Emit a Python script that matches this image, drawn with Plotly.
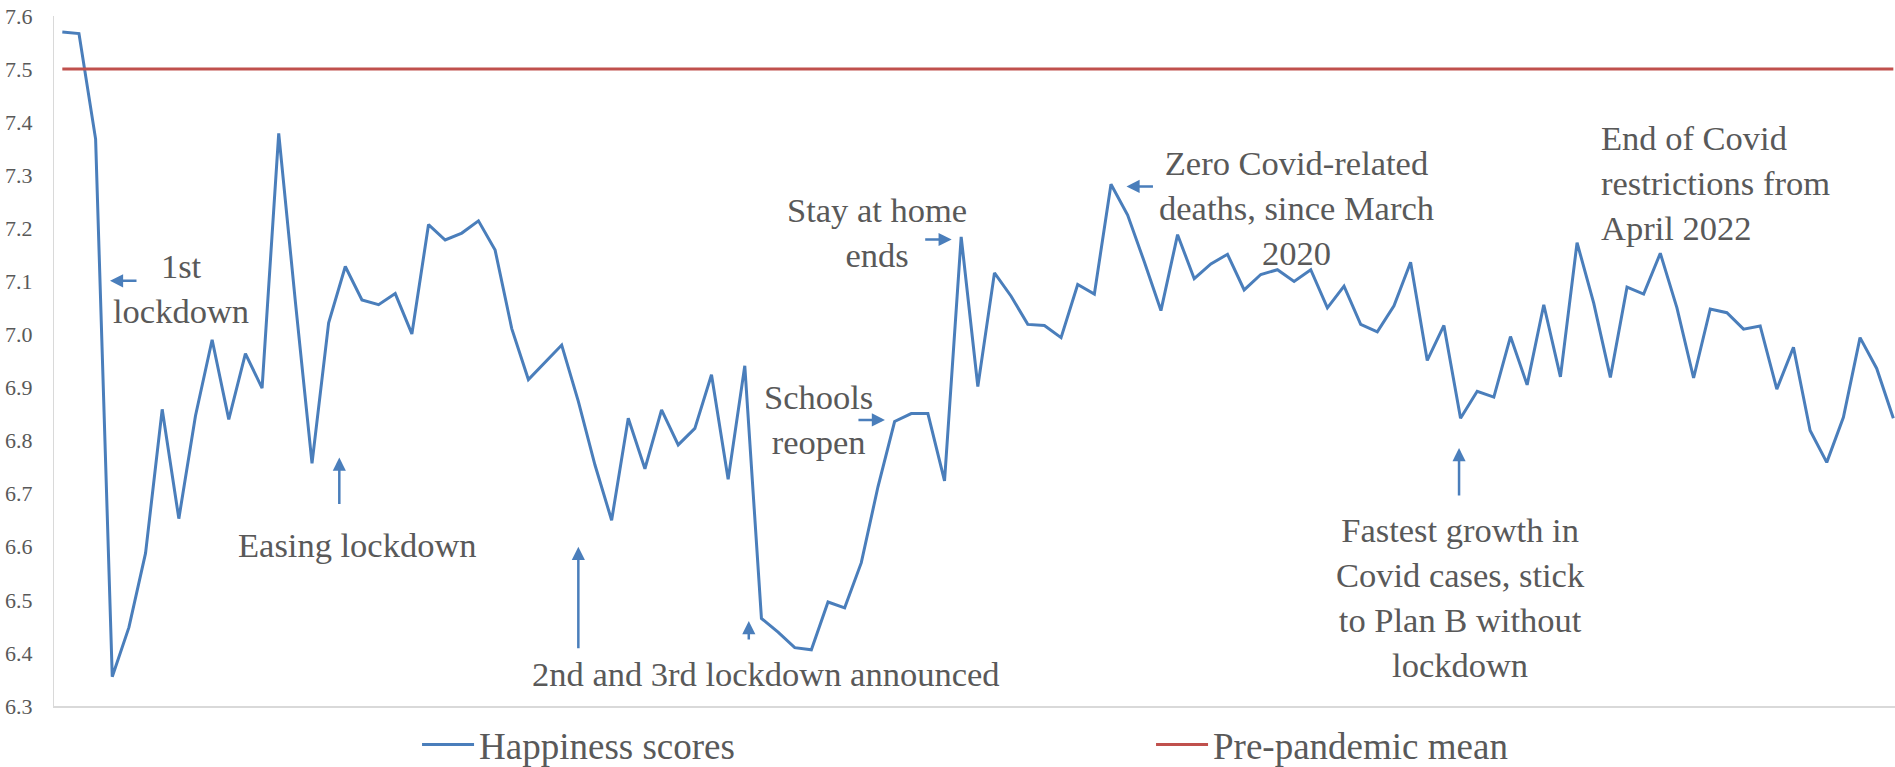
import plotly.graph_objects as go

# Weekly average happiness scores, March 2020 onwards
happiness = [
    7.570, 7.567, 7.368, 6.355, 6.448, 6.588, 6.859, 6.653, 6.847, 6.990,
    6.840, 6.964, 6.899, 7.379, 7.062, 6.757, 7.022, 7.128, 7.065, 7.056,
    7.077, 7.001, 7.207, 7.178, 7.191, 7.214, 7.159, 7.011, 6.915, 6.947,
    6.980, 6.874, 6.754, 6.650, 6.842, 6.747, 6.858, 6.792, 6.823, 6.924,
    6.727, 6.941, 6.465, 6.439, 6.410, 6.406, 6.496, 6.485, 6.570, 6.713,
    6.836, 6.851, 6.851, 6.724, 7.184, 6.902, 7.116, 7.072, 7.019, 7.017,
    6.994, 7.094, 7.076, 7.283, 7.225, 7.137, 7.045, 7.188, 7.105, 7.133,
    7.151, 7.084, 7.113, 7.122, 7.100, 7.122, 7.050, 7.091, 7.019, 7.005,
    7.054, 7.136, 6.951, 7.017, 6.842, 6.893, 6.882, 6.996, 6.905, 7.056,
    6.920, 7.173, 7.059, 6.919, 7.089, 7.076, 7.153, 7.050, 6.918, 7.048,
    7.041, 7.010, 7.016, 6.897, 6.976, 6.819, 6.759, 6.844, 6.994, 6.936,
    6.842,
]
weeks = list(range(len(happiness)))
PRE_PANDEMIC_MEAN = 7.5
pre_pandemic = [PRE_PANDEMIC_MEAN] * len(weeks)

y_ticks = [6.3, 6.4, 6.5, 6.6, 6.7, 6.8, 6.9, 7.0, 7.1, 7.2, 7.3, 7.4, 7.5, 7.6]
y_tick_labels = [f"{v:.1f}" for v in y_ticks]

BLUE = "#4A7EBB"
RED = "#C0504D"
TEXT = "#595959"
AXIS = "#D9D9D9"
FONT = "Liberation Serif"

# Event labels: (text, week position, score level, horizontal anchor, alignment)
events = [
    ("1st<br>lockdown", 7.13, 7.086, "center", "center"),
    ("Easing lockdown", 17.75, 6.603, "center", "center"),
    ("2nd and 3rd lockdown announced", 42.28, 6.361, "center", "center"),
    ("Schools<br>reopen", 45.4, 6.839, "center", "center"),
    ("Stay at home<br>ends", 48.94, 7.192, "center", "center"),
    ("Zero Covid-related<br>deaths, since March<br>2020", 74.12, 7.238, "center", "center"),
    ("End of Covid<br>restrictions from<br>April 2022", 92.32, 7.286, "left", "left"),
    ("Fastest growth in<br>Covid cases, stick<br>to Plan B without<br>lockdown", 83.97, 6.504, "center", "center"),
]

# Arrows: (tip week, tip score, tail offset x px, tail offset y px)
arrows = [
    (2.864, 7.101, 28, 0),
    (16.64, 6.768, 0, 48),
    (31.0, 6.600, 0, 103),
    (41.24, 6.460, 0, 20),
    (49.42, 6.839, -28, 0),
    (53.43, 7.179, -28, 0),
    (63.93, 7.279, 28, 0),
    (83.91, 6.786, 0, 49),
]

fig = go.Figure()
fig.add_trace(go.Scatter(
    x=weeks, y=happiness, mode="lines", name="Happiness scores",
    line=dict(color=BLUE, width=3),
))
fig.add_trace(go.Scatter(
    x=weeks, y=pre_pandemic, mode="lines", name="Pre-pandemic mean",
    line=dict(color=RED, width=3),
))

annotations = []
for text, xv, yv, xanchor, align in events:
    annotations.append(dict(
        x=xv, y=yv, xref="x", yref="y", text=text, showarrow=False,
        xanchor=xanchor, yanchor="middle", align=align,
        font=dict(family=FONT, size=34.5, color=TEXT),
    ))
for xv, yv, ax, ay in arrows:
    annotations.append(dict(
        x=xv, y=yv, xref="x", yref="y", text="", showarrow=True,
        ax=ax, ay=ay, arrowhead=2, arrowsize=1.05, arrowwidth=2.5,
        arrowcolor=BLUE, standoff=0, startstandoff=0,
    ))

fig.update_layout(
    width=1895, height=767,
    margin=dict(l=54, r=0, t=16, b=61, autoexpand=False),
    paper_bgcolor="white", plot_bgcolor="white",
    font=dict(family=FONT, color=TEXT),
    showlegend=True,
    legend=dict(
        orientation="h", x=0.1972, xanchor="left", y=-0.0565, yanchor="middle",
        font=dict(family=FONT, size=37, color=TEXT),
        itemwidth=52, entrywidth=667, entrywidthmode="pixels",
        bgcolor="rgba(0,0,0,0)", borderwidth=0,
    ),
    annotations=annotations,
    xaxis=dict(
        range=[-0.5, 110.1], showgrid=False, zeroline=False,
        showticklabels=False, showline=True, linecolor=AXIS, linewidth=2,
        ticks="",
    ),
    yaxis=dict(
        range=[6.3, 7.6], tickvals=y_ticks, ticktext=y_tick_labels,
        showgrid=False, zeroline=False, showline=True, linecolor=AXIS,
        linewidth=1, ticks="", ticklabelstandoff=16,
        tickfont=dict(family=FONT, size=22, color=TEXT),
    ),
)

fig.write_html("out.html")
